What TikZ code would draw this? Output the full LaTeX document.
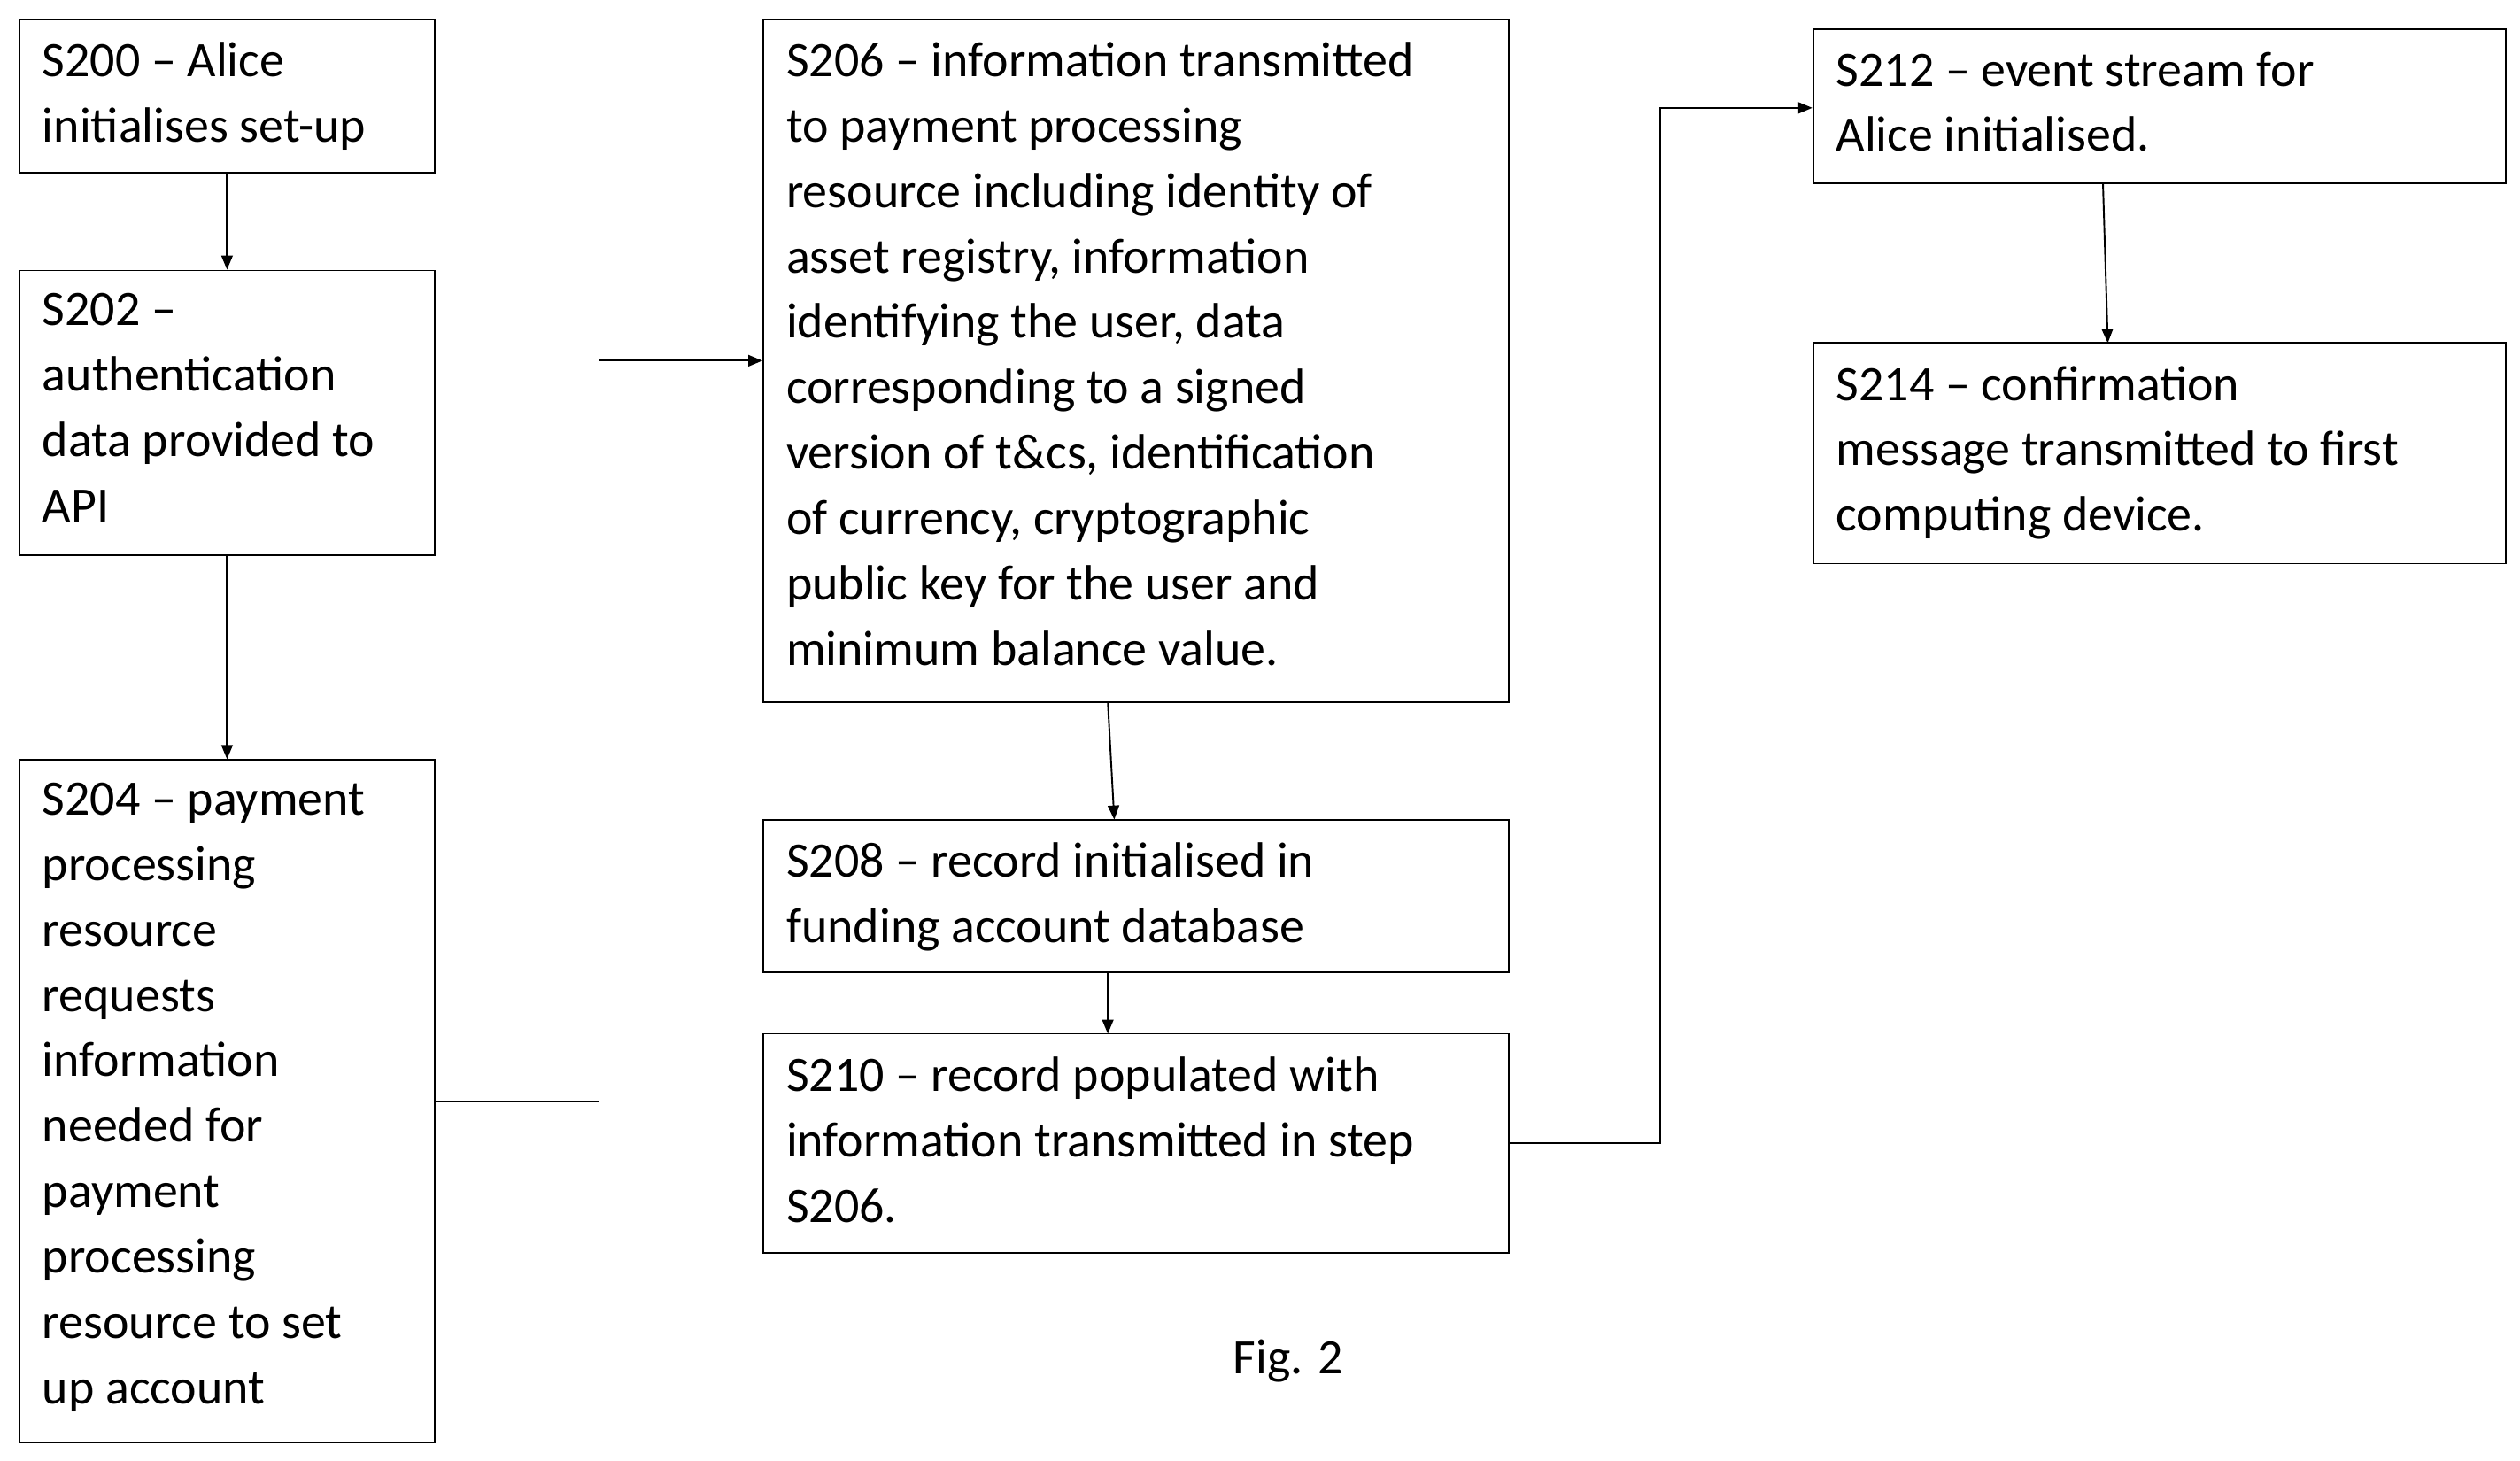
\documentclass[tikz,border=0pt]{standalone}
\usepackage{fontspec}
\setmainfont{Carlito}
\usetikzlibrary{arrows.meta}
\begin{document}
\begin{tikzpicture}[x=0.02cm,y=-0.02cm,
  box/.style={draw,line width=0.6pt,inner sep=0},
  txt/.style={anchor=north west,inner sep=0,align=left,font=\fontsize{17.5pt}{23.1pt}\selectfont},
  arr/.style={-{Triangle[length=5pt,width=4pt]},line width=0.6pt}]
\useasboundingbox (0,0) rectangle (1565,907);
\newcommand\bx[6]{%
  \node[box,minimum width={(#4-#2)*0.02cm},minimum height={(#5-#3)*0.02cm}] (#1) at ({(#2+#4)/2},{(#3+#5)/2}) {};
  \node[txt] at (#2+14,#3+14) {#6};}
\bx{s200}{12}{12}{270}{107}{S200 – Alice\\initialises set-up}
\bx{s202}{12}{168}{270}{345}{S202 –\\authentication\\data provided to\\API}
\bx{s204}{12}{472}{270}{896}{S204 – payment\\processing\\resource\\requests\\information\\needed for\\payment\\processing\\resource to set\\up account}
\bx{s206}{474}{12}{937}{436}{S206 – information transmitted\\to payment processing\\resource including identity of\\asset registry, information\\identifying the user, data\\corresponding to a signed\\version of t\&cs, identification\\of currency, cryptographic\\public key for the user and\\minimum balance value.}
\bx{s208}{474}{509}{937}{604}{S208 – record initialised in\\funding account database}
\bx{s210}{474}{642}{937}{778}{S210 – record populated with\\information transmitted in step\\S206.}
\bx{s212}{1126}{18}{1556}{114}{S212 – event stream for\\Alice initialised.}
\bx{s214}{1126}{213}{1556}{350}{S214 – confirmation\\message transmitted to first\\computing device.}
\node[font=\fontsize{17.5pt}{21pt}\selectfont] (fig) at (800,845) {Fig. 2};
\draw[arr] (s200.south) -- (s202.north);
\draw[arr] (s202.south) -- (s204.north);
\draw[arr] (s204.east |- 0,684) -- (372,684) -- (372,224) -- (s206.west |- 0,224);
\draw[arr] (688,436) -- (692,509);
\draw[arr] (688,604) -- (688,642);
\draw[arr] (s210.east |- 0,710) -- (1031,710) -- (1031,67) -- (s212.west |- 0,67);
\draw[arr] (1306,114) -- (1309,213);
\end{tikzpicture}
\end{document}
